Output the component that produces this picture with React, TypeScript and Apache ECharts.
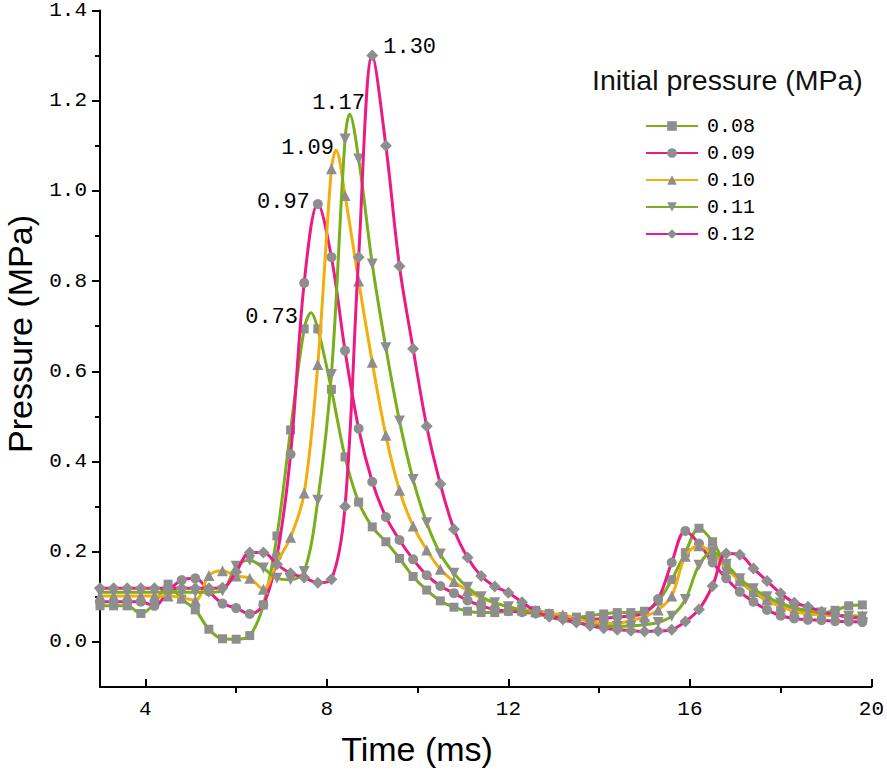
import React, { useEffect, useRef } from "react";
import * as echarts from "echarts";

// ---- data ----
const TIMES = [
  3.0, 3.3, 3.6, 3.9, 4.2, 4.5, 4.8, 5.1, 5.4, 5.7,
  6.0, 6.3, 6.6, 6.9, 7.2, 7.5, 7.8, 8.1, 8.4, 8.7,
  9.0, 9.3, 9.6, 9.9, 10.2, 10.5, 10.8, 11.1, 11.4, 11.7,
  12.0, 12.3, 12.6, 12.9, 13.2, 13.5, 13.8, 14.1, 14.4, 14.7,
  15.0, 15.3, 15.6, 15.9, 16.2, 16.5, 16.8, 17.1, 17.4, 17.7,
  18.0, 18.3, 18.6, 18.9, 19.2, 19.5, 19.8,
];

const SERIES_NAMES = ["0.08", "0.09", "0.10", "0.11", "0.12"];

const P_008 = [
  0.080, 0.080, 0.080, 0.063, 0.085, 0.128, 0.095, 0.071, 0.028, 0.007,
  0.006, 0.014, 0.082, 0.235, 0.470, 0.694, 0.694, 0.560, 0.410, 0.310,
  0.255, 0.222, 0.185, 0.145, 0.115, 0.091, 0.077, 0.068, 0.065, 0.065,
  0.068, 0.071, 0.070, 0.063, 0.056, 0.055, 0.058, 0.062, 0.065, 0.065,
  0.068, 0.090, 0.138, 0.198, 0.252, 0.222, 0.170, 0.135, 0.110, 0.092,
  0.079, 0.071, 0.066, 0.064, 0.070, 0.080, 0.082,
];
const P_009 = [
  0.089, 0.089, 0.089, 0.089, 0.080, 0.112, 0.137, 0.141, 0.112, 0.085,
  0.075, 0.062, 0.082, 0.190, 0.416, 0.796, 0.971, 0.853, 0.646, 0.473,
  0.355, 0.277, 0.226, 0.183, 0.148, 0.124, 0.108, 0.092, 0.080, 0.072,
  0.068, 0.066, 0.063, 0.059, 0.055, 0.051, 0.050, 0.052, 0.055, 0.058,
  0.064, 0.095, 0.176, 0.246, 0.218, 0.176, 0.141, 0.111, 0.089, 0.071,
  0.058, 0.052, 0.049, 0.048, 0.046, 0.045, 0.044,
];
const P_010 = [
  0.102, 0.102, 0.102, 0.102, 0.102, 0.102, 0.098, 0.092, 0.147, 0.158,
  0.146, 0.141, 0.117, 0.177, 0.232, 0.330, 0.615, 1.049, 0.990, 0.800,
  0.620, 0.458, 0.336, 0.257, 0.204, 0.161, 0.134, 0.114, 0.097, 0.086,
  0.078, 0.071, 0.067, 0.063, 0.060, 0.052, 0.045, 0.041, 0.041, 0.047,
  0.056, 0.071, 0.102, 0.190, 0.213, 0.195, 0.163, 0.135, 0.112, 0.093,
  0.078, 0.068, 0.062, 0.060, 0.058, 0.058, 0.058,
];
const P_011 = [
  0.110, 0.110, 0.110, 0.110, 0.110, 0.110, 0.110, 0.110, 0.110, 0.113,
  0.168, 0.181, 0.164, 0.141, 0.138, 0.156, 0.314, 0.593, 1.115, 1.071,
  0.838, 0.652, 0.490, 0.360, 0.264, 0.195, 0.152, 0.121, 0.100, 0.087,
  0.078, 0.070, 0.063, 0.055, 0.048, 0.043, 0.038, 0.035, 0.034, 0.035,
  0.038, 0.043, 0.057, 0.094, 0.170, 0.200, 0.172, 0.140, 0.118, 0.100,
  0.086, 0.076, 0.069, 0.064, 0.060, 0.057, 0.055,
];
const P_012 = [
  0.119, 0.119, 0.119, 0.119, 0.119, 0.119, 0.119, 0.119, 0.119, 0.120,
  0.155, 0.198, 0.198, 0.172, 0.152, 0.143, 0.131, 0.139, 0.300, 0.853,
  1.300, 1.100, 0.833, 0.650, 0.478, 0.350, 0.250, 0.187, 0.146, 0.123,
  0.109, 0.088, 0.068, 0.056, 0.050, 0.043, 0.036, 0.030, 0.027, 0.025,
  0.023, 0.024, 0.027, 0.045, 0.072, 0.124, 0.196, 0.193, 0.163, 0.135,
  0.108, 0.087, 0.078, 0.067, 0.060, 0.055, 0.052,
];
const SERIES_VALUES = [P_008, P_009, P_010, P_011, P_012];

const PEAK_TIMES = [7.65, 7.8, 8.2, 8.5, 9.0];
const PEAK_VALUES = [0.73, 0.971, 1.09, 1.17, 1.30];
const PEAK_LABELS = ["0.73", "0.97", "1.09", "1.17", "1.30"];

const X_TICKS = [4, 8, 12, 16, 20];
const X_MINOR_TICKS = [6, 10, 14, 18];
const Y_TICKS = [0, 0.2, 0.4, 0.6, 0.8, 1.0, 1.2, 1.4];
const Y_MINOR_TICKS = [0.1, 0.3, 0.5, 0.7, 0.9, 1.1, 1.3];

// ---- styles ----
const GREEN = "#79AE1D";
const PINK = "#EB1B85";
const YELLOW = "#F2AE0C";
const MARK = "#8E8E8E";
const FONT_NUM = '"Liberation Mono", "DejaVu Sans Mono", monospace';
const FONT_SANS = '"Liberation Sans", Arial, sans-serif';

const STYLES: any[] = [
  { color: GREEN, symbol: "rect", size: 9, rotate: 0, label: { position: "left", distance: 13, offset: [0, 5] } },
  { color: PINK, symbol: "circle", size: 10, rotate: 0, label: { position: "left", distance: 3, offset: [0, -1] } },
  { color: YELLOW, symbol: "triangle", size: 11, rotate: 0, label: { position: "left", distance: 2, offset: [0, -2] } },
  { color: GREEN, symbol: "triangle", size: 11, rotate: 180, label: { position: "top", distance: 0, offset: [-11, 0] } },
  { color: PINK, symbol: "diamond", size: 12, rotate: 0, label: { position: "right", distance: 5, offset: [0, -8] } },
];

function buildData(k: number) {
  const values = SERIES_VALUES[k];
  const pts: any[] = TIMES.map((t, i) => ({ value: [t, values[i]] }));
  const label = {
    show: true,
    formatter: PEAK_LABELS[k],
    fontFamily: FONT_NUM,
    fontSize: 22,
    color: "#000",
    ...STYLES[k].label,
  };
  const pt = PEAK_TIMES[k];
  const idx = TIMES.indexOf(pt);
  if (idx >= 0) {
    pts[idx] = { value: [pt, values[idx]], label };
  } else {
    let pos = TIMES.findIndex((t) => t > pt);
    if (pos < 0) pos = TIMES.length;
    pts.splice(pos, 0, {
      value: [pt, PEAK_VALUES[k]],
      symbolSize: 0,
      symbolRotate: 0,
      label,
    });
  }
  return pts;
}

export default function App() {
  const ref = useRef<HTMLDivElement>(null);

  useEffect(() => {
    if (!ref.current) return;
    const chart = echarts.init(ref.current, undefined, { renderer: "svg" });

    const series = SERIES_NAMES.map((name, k) => ({
      type: "line",
      name,
      xAxisIndex: 0,
      yAxisIndex: 0,
      data: buildData(k),
      smooth: 0.35,
      showAllSymbol: true,
      symbol: STYLES[k].symbol,
      symbolSize: STYLES[k].size,
      symbolRotate: STYLES[k].rotate,
      lineStyle: { color: STYLES[k].color, width: 3 },
      itemStyle: { color: MARK },
      emphasis: { disabled: true },
      z: 2 + k,
    }));

    chart.setOption({
      animation: false,
      backgroundColor: "#fff",
      title: {
        text: "Initial pressure (MPa)",
        left: 587,
        top: 60,
        textStyle: { fontFamily: FONT_SANS, fontSize: 28.5, fontWeight: "normal", color: "#111" },
      },
      legend: {
        data: SERIES_NAMES,
        orient: "vertical",
        left: 640,
        top: 111,
        itemWidth: 52,
        itemHeight: 12,
        itemGap: 7,
        textStyle: { fontFamily: FONT_NUM, fontSize: 20, color: "#000", padding: [0, 0, 0, 4] },
      },
      grid: { left: 100, right: 15, top: 10, bottom: 85, containLabel: false },
      xAxis: [
        {
          type: "value",
          min: 3,
          max: 20,
          position: "bottom",
          axisLine: { show: true, onZero: false, lineStyle: { color: "#000", width: 2 } },
          axisTick: { show: true, inside: true, length: 8, customValues: X_TICKS, lineStyle: { color: "#000", width: 2 } },
          axisLabel: {
            customValues: X_TICKS,
            margin: 12,
            fontFamily: FONT_NUM,
            fontSize: 21,
            color: "#000",
          },
          splitLine: { show: false },
        },
        {
          type: "value",
          min: 3,
          max: 20,
          position: "bottom",
          axisLine: { show: false, onZero: false },
          axisTick: { show: true, inside: false, length: 6, customValues: X_MINOR_TICKS, lineStyle: { color: "#000", width: 2 } },
          axisLabel: { show: false },
          splitLine: { show: false },
        },
      ],
      yAxis: [
        {
          type: "value",
          min: -0.1,
          max: 1.4,
          position: "left",
          axisLine: { show: true, onZero: false, lineStyle: { color: "#000", width: 2 } },
          axisTick: { show: true, length: 8, customValues: Y_TICKS, lineStyle: { color: "#000", width: 2 } },
          axisLabel: {
            customValues: Y_TICKS,
            formatter: (v: number) => v.toFixed(1),
            margin: 13,
            fontFamily: FONT_NUM,
            fontSize: 21,
            color: "#000",
          },
          splitLine: { show: false },
        },
        {
          type: "value",
          min: -0.1,
          max: 1.4,
          position: "left",
          axisLine: { show: false, onZero: false },
          axisTick: { show: true, length: 5, customValues: Y_MINOR_TICKS, lineStyle: { color: "#000", width: 2 } },
          axisLabel: { show: false },
          splitLine: { show: false },
        },
      ],
      graphic: [
        {
          type: "text",
          x: 20,
          y: 334,
          rotation: Math.PI / 2,
          style: {
            text: "Pressure (MPa)",
            fontFamily: FONT_SANS,
            fontSize: 34,
            fill: "#000",
            textAlign: "center",
            textVerticalAlign: "middle",
            align: "center",
            verticalAlign: "middle",
          },
        },
        {
          type: "text",
          x: 417,
          y: 749,
          style: {
            text: "Time (ms)",
            fontFamily: FONT_SANS,
            fontSize: 34,
            fill: "#000",
            textAlign: "center",
            textVerticalAlign: "middle",
            align: "center",
            verticalAlign: "middle",
          },
        },
      ],
      series,
    });

    return () => chart.dispose();
  }, []);

  return (
    <div
      ref={ref}
      style={{ position: "fixed", left: 0, top: 0, width: 887, height: 772, background: "#fff" }}
    />
  );
}
